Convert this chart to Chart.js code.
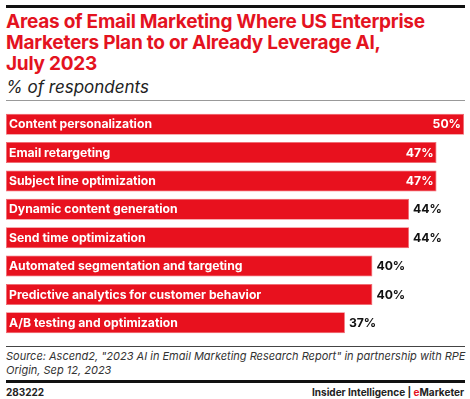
<!DOCTYPE html>
<html><head><meta charset="utf-8">
<script src="https://cdn.jsdelivr.net/npm/chart.js@4"></script>
<style>
html,body{margin:0;padding:0;background:#fff;width:470px;height:399px;overflow:hidden;font-family:Inter,"Liberation Sans",sans-serif;}
#topbar{position:absolute;left:6px;top:5px;width:459px;height:3px;background:#111;}
#title{position:absolute;left:6px;top:11px;width:464px;color:#e4131f;font-weight:700;font-size:19px;line-height:21px;letter-spacing:-0.25px;white-space:nowrap;}
#sub{position:absolute;left:6px;top:77px;font-style:italic;font-size:17px;color:#222;}
#gline{position:absolute;left:6px;top:100px;width:459px;height:1px;background:#999;}
#wrap{position:absolute;left:0;top:110px;width:470px;height:227px;}
#fline{position:absolute;left:6px;top:346px;width:459px;height:1px;background:#444;}
#src{position:absolute;left:6px;top:349px;width:460px;font-style:italic;font-size:11px;line-height:14px;color:#333;}
#bline{position:absolute;left:6px;top:380px;width:459px;height:3px;background:#111;}
#id{position:absolute;left:6px;top:386px;font-size:10px;font-weight:700;color:#222;}
#brand{position:absolute;right:6px;top:386px;font-size:10px;font-weight:700;color:#222;}
#brand span{color:#e4131f;}
</style></head><body>
<div id="topbar"></div>
<div id="title">Areas of Email Marketing Where US Enterprise<br>Marketers Plan to or Already Leverage AI,<br>July 2023</div>
<div id="sub">% of respondents</div>
<div id="gline"></div>
<div id="wrap"><canvas id="c"></canvas></div>
<div id="fline"></div>
<div id="src">Source: Ascend2, "2023 AI in Email Marketing Research Report" in partnership with RPE Origin, Sep 12, 2023</div>
<div id="bline"></div>
<div id="id">283222</div>
<div id="brand">Insider Intelligence | <span>e</span>Marketer</div>
<script>
const categories = ["Content personalization","Email retargeting","Subject line optimization","Dynamic content generation","Send time optimization","Automated segmentation and targeting","Predictive analytics for customer behavior","A/B testing and optimization"];
const values = [50,47,47,44,44,40,40,37];
const insideThreshold = 45;

const labelPlugin = {
  id:'labels',
  afterDatasetsDraw(chart){
    const ctx = chart.ctx;
    const meta = chart.getDatasetMeta(0);
    ctx.save();
    ctx.textBaseline = 'middle';
    ctx.font = '700 12.2px Inter, "Liberation Sans", sans-serif';
    meta.data.forEach((bar,i)=>{
      const left = chart.scales.x.getPixelForValue(0);
      ctx.fillStyle = '#fff';
      ctx.textAlign = 'left';
      ctx.fillText(categories[i], left+3, bar.y+0.5);
      const t = values[i] + '%';
      if (values[i] >= insideThreshold){
        ctx.fillStyle = '#fff';
        ctx.textAlign = 'right';
        ctx.fillText(t, bar.x-3, bar.y+0.5);
      } else {
        ctx.fillStyle = '#111';
        ctx.textAlign = 'left';
        ctx.fillText(t, bar.x+4, bar.y+0.5);
      }
    });
    ctx.restore();
  }
};

new Chart(document.getElementById('c'), {
  type:'bar',
  data:{labels:categories, datasets:[{data:values, backgroundColor:'#e8111e', borderColor:'#f06a72', borderWidth:0.8, borderSkipped:false, barPercentage:0.74, categoryPercentage:1}]},
  options:{
    indexAxis:'y', responsive:true, maintainAspectRatio:false, animation:false,
    layout:{padding:{left:6,right:6,top:0,bottom:0}},
    plugins:{legend:{display:false}, tooltip:{enabled:false}},
    scales:{
      x:{min:0,max:50,display:false},
      y:{display:false}
    }
  },
  plugins:[labelPlugin]
});
</script>
</body></html>
